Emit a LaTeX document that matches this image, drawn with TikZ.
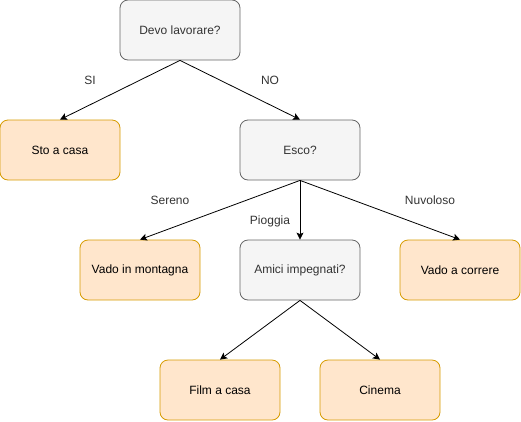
\documentclass[tikz,border=0pt]{standalone}
\usepackage{fontspec}
\setmainfont{Liberation Sans}
\usetikzlibrary{arrows.meta}
\definecolor{gfill}{HTML}{F5F5F5}
\definecolor{gline}{HTML}{666666}
\definecolor{gtext}{HTML}{333333}
\definecolor{ofill}{HTML}{FFE6CC}
\definecolor{oline}{HTML}{D79B00}
\begin{document}
\begin{tikzpicture}[x=1pt,y=-1pt,
  box/.style={minimum width=120pt,minimum height=60pt,rounded corners=8pt,line width=0.8pt,inner sep=0pt,font=\fontsize{12}{14}\selectfont},
  grey/.style={box,draw=gline,fill=gfill,text=gtext},
  orange/.style={box,draw=oline,fill=ofill,text=black},
  conn/.style={draw=black,line width=0.8pt,-{Stealth[length=7pt,width=7pt,inset=1.5pt]}},
  lbl/.style={font=\fontsize{12}{14}\selectfont,text=gtext,inner sep=0pt}]
\useasboundingbox (0,0) rectangle (521,421);
\node[grey] (devo) at (180,30) {Devo lavorare?};
\node[orange] (casa) at (60,150) {Sto a casa};
\node[grey] (esco) at (300,150) {Esco?};
\node[orange] (mont) at (140,270) {Vado in montagna};
\node[grey] (amici) at (300,270) {Amici impegnati?};
\node[orange] (corr) at (460,270) {Vado a correre};
\node[orange] (film) at (220,390) {Film a casa};
\node[orange] (cine) at (380,390) {Cinema};
\draw[conn] (devo.south) -- (casa.north);
\draw[conn] (devo.south) -- (esco.north);
\draw[conn] (esco.south) -- (mont.north);
\draw[conn] (esco.south) -- (amici.north);
\draw[conn] (esco.south) -- (corr.north);
\draw[conn] (amici.south) -- (film.north);
\draw[conn] (amici.south) -- (cine.north);
\node[lbl] (lsi) at (90,80) {SI};
\node[lbl] (lno) at (270,80) {NO};
\node[lbl] (lser) at (170,200) {Sereno};
\node[lbl] (lpio) at (270,221) {Pioggia};
\node[lbl] (lnuv) at (430,200) {Nuvoloso};
\end{tikzpicture}
\end{document}
